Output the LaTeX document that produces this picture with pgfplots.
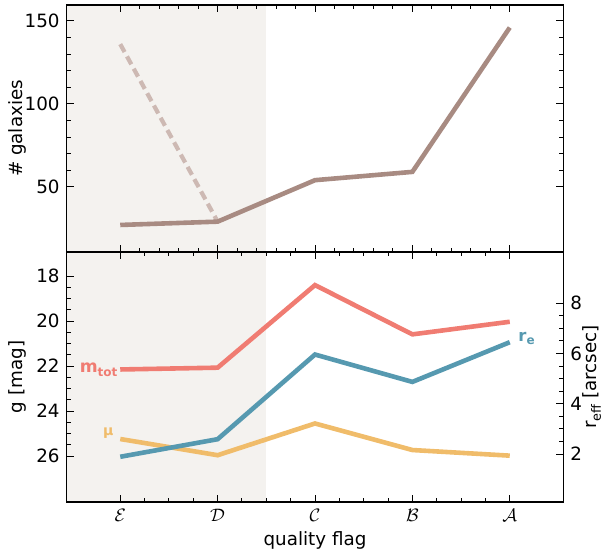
\documentclass[border=0pt]{standalone}
\usepackage{fontspec}
\setmainfont{DejaVu Sans}
\usepackage{pgfplots}
\pgfplotsset{compat=1.18}

\definecolor{cnum}{HTML}{A88B82}
\definecolor{cnumdash}{HTML}{CDB9B3}
\definecolor{cmag}{HTML}{F07C72}
\definecolor{creff}{HTML}{5699B0}
\definecolor{cmu}{HTML}{F0BC6A}
\definecolor{cshade}{HTML}{F4F2EF}

\pgfplotsset{
  flagaxis/.style={
    scale only axis,
    width=248.3pt,
    xmin=-0.55, xmax=4.55,
    xtick={0,1,2,3,4},
    tick align=inside,
    major tick length=3.5pt,
    minor tick length=2pt,
    every tick/.style={black, line width=0.5pt},
    axis line style={black, line width=0.6pt},
    font=\fontsize{9.15}{11}\selectfont,
    /pgf/number format/assume math mode=true,
    axis on top,
    anchor=south west,
  },
}

\begin{document}
\begin{tikzpicture}
\path[use as bounding box] (0,0) rectangle (301.5pt,276pt);

% top panel: number of galaxies per flag
\begin{axis}[flagaxis,
  at={(33.35pt,150pt)}, height=123.5pt,
  ymin=10.7, ymax=159.6,
  ytick={50,100,150}, minor tick num=4,
  xtick pos=both, ytick pos=both,
  xticklabels={},
  ylabel={\# galaxies},
  ylabel style={at={(axis description cs:-0.099,0.5)}, anchor=center},
]
\fill[cshade] (axis cs:-0.55,10.7) rectangle (axis cs:1.5,159.6);
\addplot[cnumdash, line width=2.1pt, dash pattern=on 4.5pt off 2.5pt] coordinates {(0,136) (1,29)};
\addplot[cnum, line width=2.3pt] coordinates {(0,27) (1,29) (2,54) (3,59) (4,146)};
\end{axis}

% bottom panel: magnitudes (left axis)
\begin{axis}[flagaxis,
  at={(33.35pt,25pt)}, height=125pt,
  y dir=reverse,
  ymin=16.93, ymax=28.04,
  ytick={18,20,22,24,26}, minor tick num=3,
  xtick pos=both, ytick pos=left,
  xticklabels={$\mathcal{E}$,$\mathcal{D}$,$\mathcal{C}$,$\mathcal{B}$,$\mathcal{A}$},
  xlabel={quality flag},
  xlabel style={at={(axis description cs:0.5,-0.152)}, anchor=center},
  ylabel={g [mag]},
  ylabel style={at={(axis description cs:-0.099,0.5)}, anchor=center},
]
\fill[cshade] (axis cs:-0.55,16.93) rectangle (axis cs:1.5,28.04);
\addplot[cmag, line width=2.3pt] coordinates {(0,22.15) (1,22.07) (2,18.4) (3,20.59) (4,20.03)};
\addplot[cmu, line width=2.3pt] coordinates {(0,25.24) (1,25.96) (2,24.55) (3,25.73) (4,25.98)};
\node[anchor=base west, inner sep=0pt, text=cmag, font=\fontsize{8.6}{9}\selectfont\bfseries]
  at (axis cs:-0.42,22.30) {m\raisebox{-0.4ex}{\fontsize{6}{6}\selectfont\bfseries tot}};
\node[anchor=base west, inner sep=0pt, text=cmu, font=\fontsize{7}{7}\selectfont\bfseries]
  at (axis cs:-0.18,25.07) {μ};
\end{axis}

% bottom panel: effective radius (right axis)
\begin{axis}[flagaxis,
  at={(33.35pt,25pt)}, height=125pt,
  ymin=0.09, ymax=10.04,
  axis x line=none, axis y line*=right,
  ytick={2,4,6,8}, minor tick num=3,
  ylabel={r\raisebox{-0.45ex}{\fontsize{6.4}{7}\selectfont eff} [arcsec]},
  ylabel style={at={(axis description cs:1.077,0.5)}, anchor=south, inner sep=0pt},
]
\addplot[creff, line width=2.3pt] coordinates {(0,1.89) (1,2.59) (2,5.96) (3,4.87) (4,6.45)};
\node[anchor=base west, inner sep=0pt, text=creff, font=\fontsize{8.2}{9}\selectfont\bfseries]
  at (axis cs:4.085,6.49) {r\raisebox{-0.4ex}{\fontsize{6}{6}\selectfont\bfseries e}};
\end{axis}
\end{tikzpicture}
\end{document}
